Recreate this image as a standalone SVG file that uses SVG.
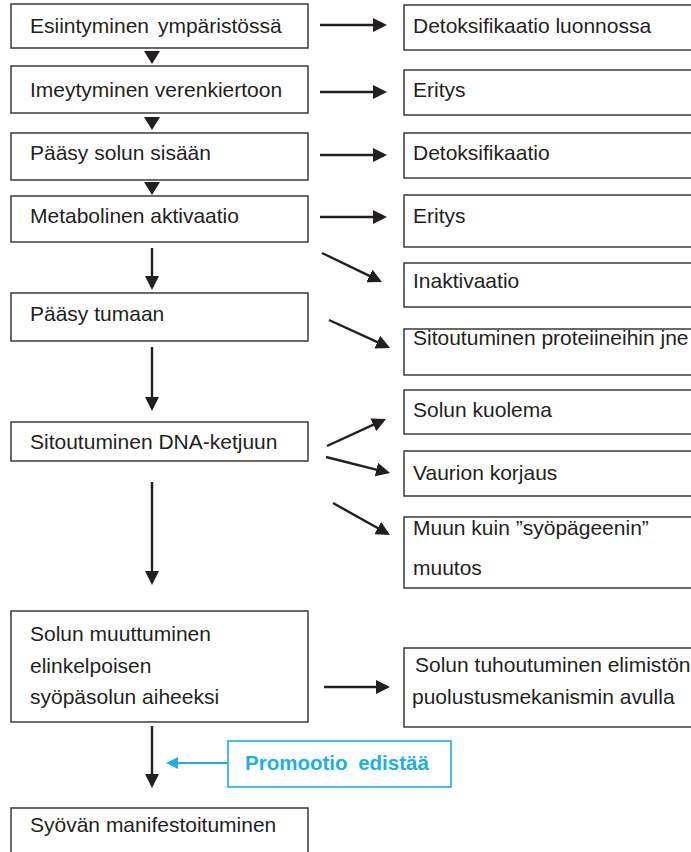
<svg xmlns="http://www.w3.org/2000/svg" width="691" height="852" viewBox="0 0 691 852">
<defs>
<style>
.box{fill:#fff;stroke:#3a3a3a;stroke-width:1.5}
.t{font-family:"Liberation Sans",Arial,sans-serif;font-size:21px;fill:#231f20}
.ln{stroke:#231f20;stroke-width:2.4;fill:none;marker-end:url(#ah)}
.tri{fill:#231f20}
.pbox{fill:#fff;stroke:#1ab0e8;stroke-width:1.6}
.pt{font-family:"Liberation Sans",Arial,sans-serif;font-size:20.5px;font-weight:bold;fill:#1ab0e8}
.pl{stroke:#1ab0e8;stroke-width:2.2;fill:none;marker-end:url(#bh)}
</style>
<marker id="ah" markerUnits="userSpaceOnUse" markerWidth="14" markerHeight="14" refX="11" refY="7" orient="auto">
<path d="M0,0 L14,7 L0,14 z" fill="#231f20"/>
</marker>
<marker id="bh" markerUnits="userSpaceOnUse" markerWidth="12" markerHeight="12" refX="9" refY="6" orient="auto">
<path d="M0,0 L12,6 L0,12 z" fill="#1ab0e8"/>
</marker>
</defs>
<rect width="691" height="852" fill="#fff"/>

<g id="n1"><rect class="box" x="11" y="4" width="297" height="44"/><text class="t" x="30" y="33" word-spacing="3">Esiintyminen ympäristössä</text></g>
<g id="n2"><rect class="box" x="11" y="66" width="297" height="47"/><text class="t" x="30" y="97">Imeytyminen verenkiertoon</text></g>
<g id="n3"><rect class="box" x="11" y="133" width="297" height="47"/><text class="t" x="30" y="160">Pääsy solun sisään</text></g>
<g id="n4"><rect class="box" x="11" y="196" width="297" height="46"/><text class="t" x="30" y="223">Metabolinen aktivaatio</text></g>
<g id="n5"><rect class="box" x="11" y="293" width="297" height="48"/><text class="t" x="30" y="321">Pääsy tumaan</text></g>
<g id="n6"><rect class="box" x="11" y="422" width="297" height="39"/><text class="t" x="30" y="449">Sitoutuminen DNA-ketjuun</text></g>
<g id="n7"><rect class="box" x="11" y="611" width="297" height="111"/><text class="t" x="30" y="641">Solun muuttuminen</text><text class="t" x="30" y="673">elinkelpoisen</text><text class="t" x="30" y="704">syöpäsolun aiheeksi</text></g>
<g id="n8"><rect class="box" x="11" y="808" width="297" height="60"/><text class="t" x="30" y="832">Syövän manifestoituminen</text></g>

<g id="r1"><rect class="box" x="404" y="5" width="300" height="45"/><text class="t" x="413" y="33">Detoksifikaatio luonnossa</text></g>
<g id="r2"><rect class="box" x="404" y="70" width="300" height="45"/><text class="t" x="413" y="97">Eritys</text></g>
<g id="r3"><rect class="box" x="404" y="133" width="300" height="45"/><text class="t" x="413" y="160">Detoksifikaatio</text></g>
<g id="r4"><rect class="box" x="404" y="195" width="300" height="52"/><text class="t" x="413" y="223">Eritys</text></g>
<g id="r5"><rect class="box" x="404" y="263" width="300" height="44"/><text class="t" x="413" y="288">Inaktivaatio</text></g>
<g id="r6"><rect class="box" x="404" y="329" width="300" height="46"/><text class="t" x="413" y="345">Sitoutuminen proteiineihin jne</text></g>
<g id="r7"><rect class="box" x="404" y="390" width="300" height="44"/><text class="t" x="413" y="417">Solun kuolema</text></g>
<g id="r8"><rect class="box" x="404" y="451" width="300" height="45"/><text class="t" x="413" y="480">Vaurion korjaus</text></g>
<g id="r9"><rect class="box" x="404" y="517" width="300" height="71"/><text class="t" x="413" y="535">Muun kuin ”syöpägeenin”</text><text class="t" x="413" y="575">muutos</text></g>
<g id="r10"><rect class="box" x="404" y="648" width="300" height="79"/><text class="t" x="415" y="672">Solun tuhoutuminen elimistön</text><text class="t" x="412" y="704">puolustusmekanismin avulla</text></g>

<g id="promo"><rect class="pbox" x="228" y="741" width="223" height="46"/><text class="pt" x="245" y="770" word-spacing="5">Promootio edistää</text></g>

<g id="connectors">
<polygon class="tri" points="144,51 160,51 152,64"/>
<polygon class="tri" points="144,117 160,117 152,130"/>
<polygon class="tri" points="144,182 160,182 152,195"/>
<line class="ln" x1="152" y1="248" x2="152" y2="287"/>
<line class="ln" x1="152" y1="347" x2="152" y2="408"/>
<line class="ln" x1="152" y1="482" x2="152" y2="582"/>
<line class="ln" x1="152" y1="726" x2="152" y2="785"/>
<line class="ln" x1="320" y1="25" x2="384" y2="25"/>
<line class="ln" x1="320" y1="92" x2="384" y2="92"/>
<line class="ln" x1="320" y1="155" x2="384" y2="155"/>
<line class="ln" x1="320" y1="217" x2="384" y2="217"/>
<line class="ln" x1="324" y1="687" x2="387" y2="687"/>
<line class="ln" x1="322" y1="253" x2="379.3" y2="280.7"/>
<line class="ln" x1="329" y1="320" x2="387.3" y2="346.7"/>
<line class="ln" x1="327" y1="446" x2="383.3" y2="420.2"/>
<line class="ln" x1="326" y1="457" x2="387.1" y2="472.3"/>
<line class="ln" x1="333" y1="503" x2="387.4" y2="533.5"/>
<line class="pl" x1="228" y1="763" x2="169" y2="763"/>
</g>
</svg>
